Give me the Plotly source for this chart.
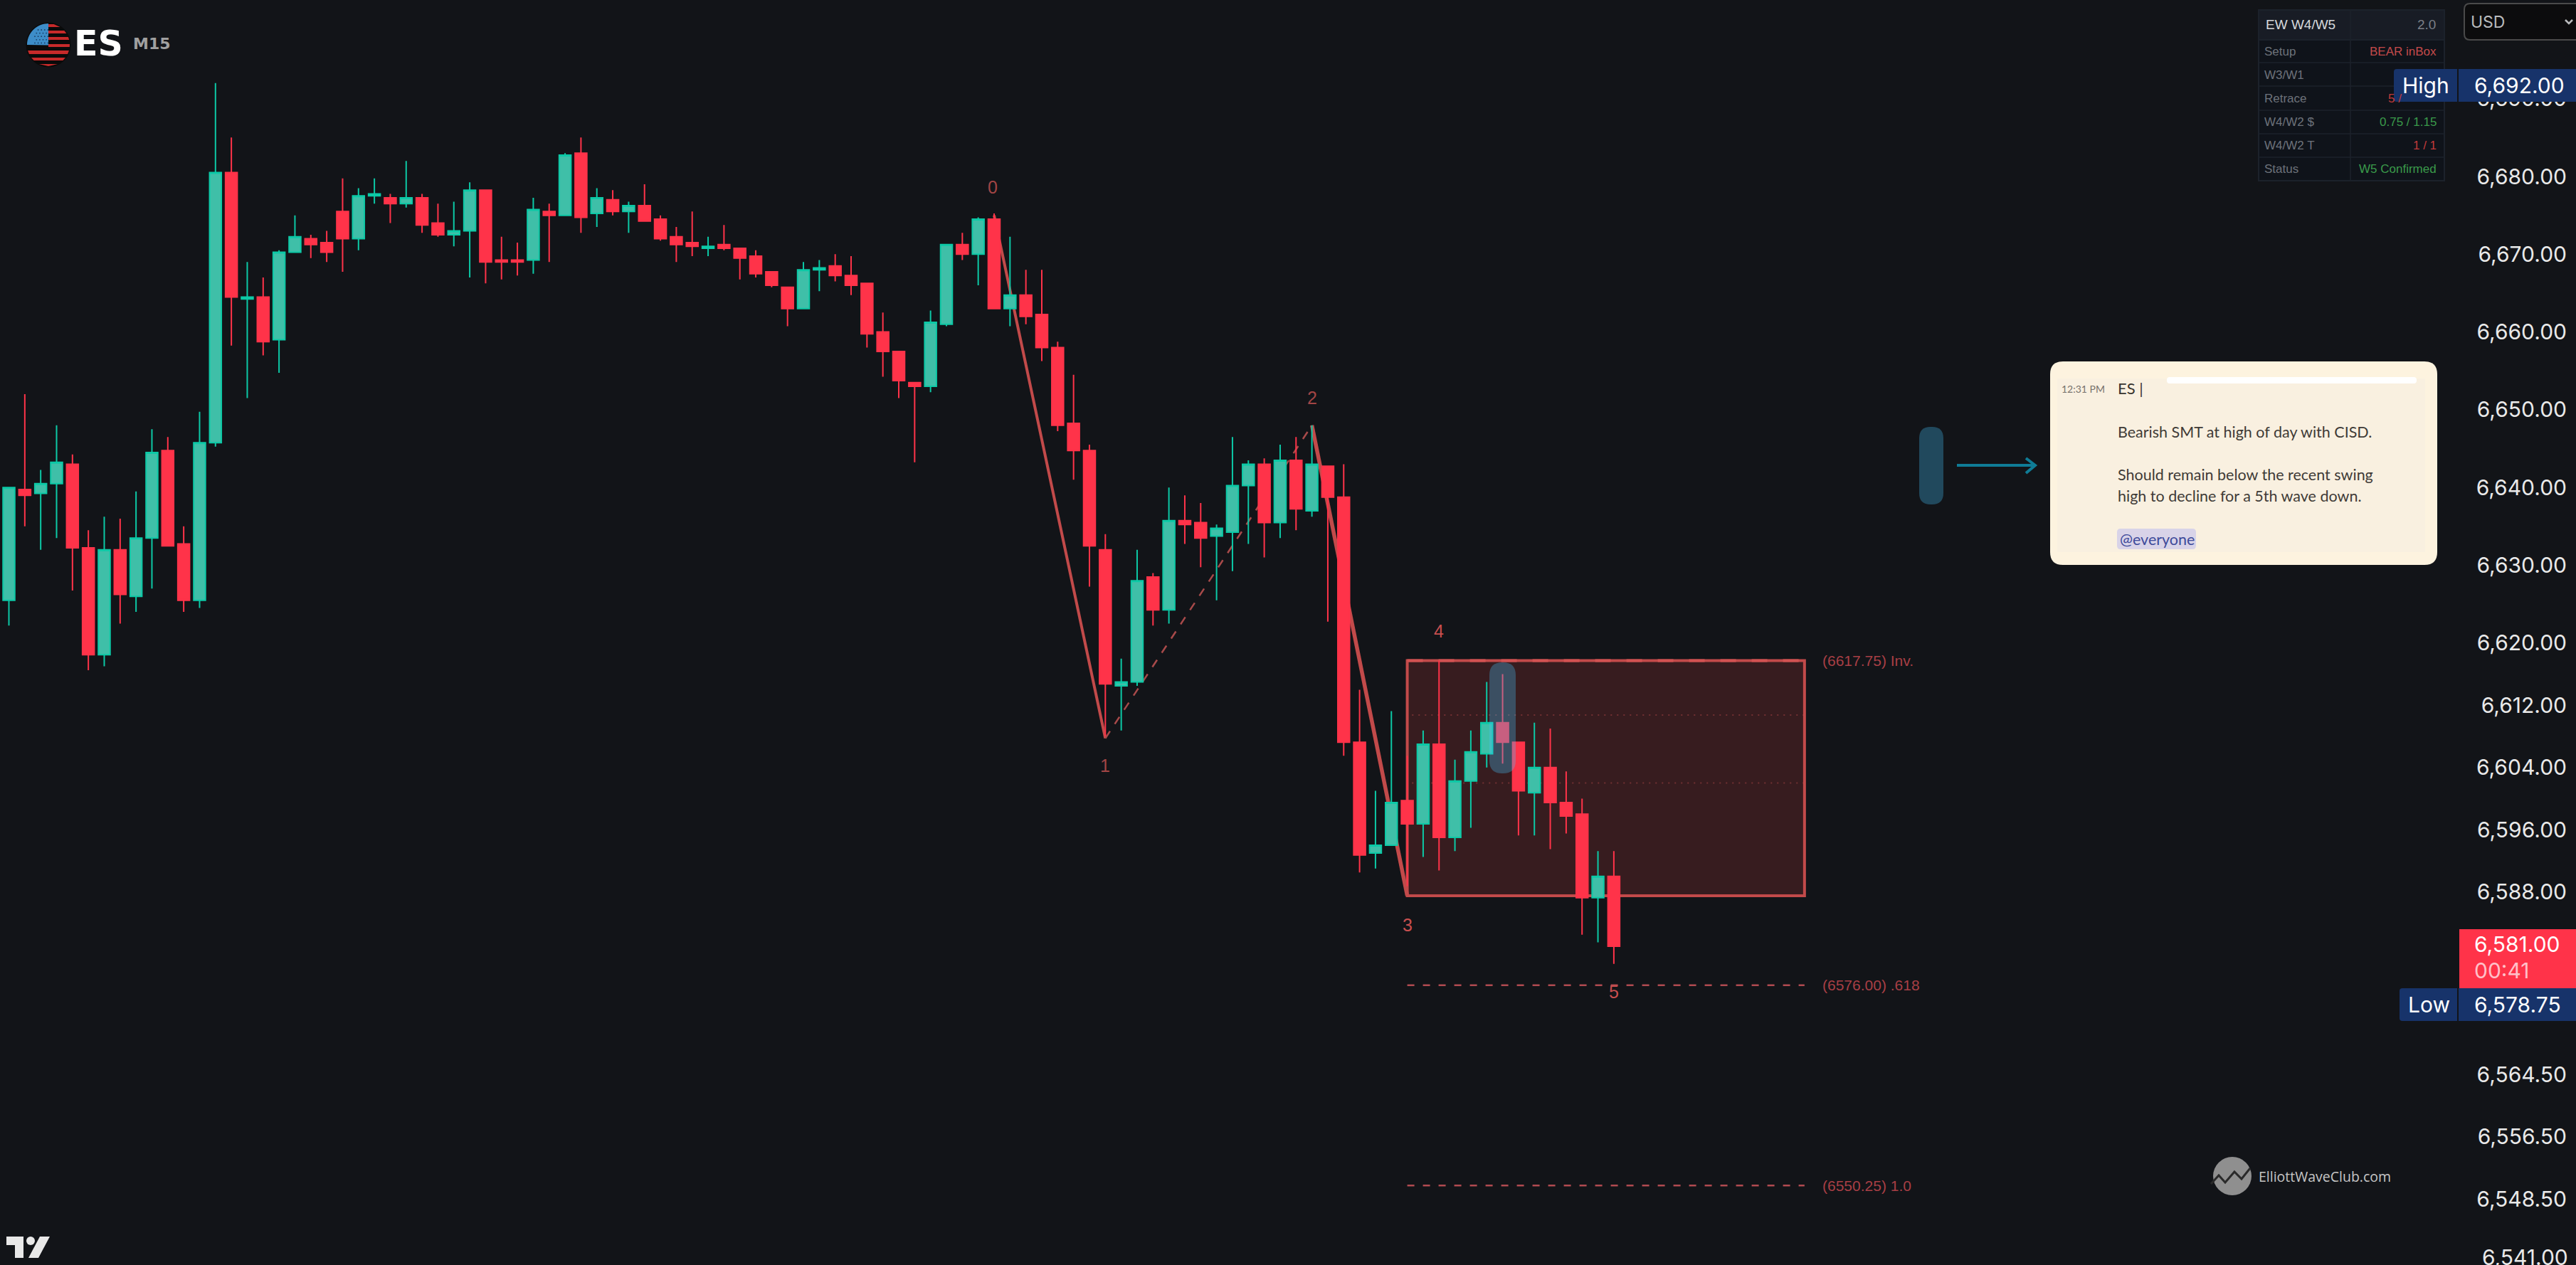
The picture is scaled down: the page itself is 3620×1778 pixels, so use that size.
import math
import plotly.graph_objects as go

W, H = 3620, 1778

# ---------- candles (ES, 15 minute) ----------
opens = [6625.5,6639.75,6639.25,6640.5,6643,6632.25,6618.5,6632,6626,6633.5,6644.75,6632.75,6625.5,6645.75,6680.5,6664.25,6664.5,6659,6670.25,6672,6671.5,6675.5,6672,6677.5,6677.25,6676.5,6677.25,6674,6672.5,6673,6678.25,
         6669.25,6669.25,6669.25,6675.5,6675,6683,6675.25,6677,6675.5,6676.25,6674.5,6672.25,6671.5,6670.75,6671.25,6670.75,6669.75,6667.75,6665.75,6663,6668,6668.5,6667.25,6666.25,6660,6657.5,6653.5,6653,6661,6671.25,6670,6674.5,
         6663,6664.75,6662.25,6658,6648.25,6644.75,6632,6614.5,6615,6628.5,6624.25,6635.75,6635.5,6633.75,6634.25,6640.25,6643,6635.5,6643.5,6637,6642.75,6638.75,6607.25,6593,6594,6599.75,6596.75,6607,6595,6602.25,6605.75,6609.75,6607.25,6600.75,6604,6599.5,6598,6587.25,6590]
highs = [6640,6652,6642.25,6648,6644.25,6634.5,6636.25,6636,6639.5,6647.5,6646.5,6635,6649.75,6692,6685,6669,6667,6670.5,6675,6672.5,6673,6679.75,6678.5,6679.75,6677.75,6682,6677.75,6676.5,6676.75,6679.25,6678.25,
         6672.25,6671.5,6677.25,6676.5,6683,6685,6678.5,6678.25,6676.75,6679,6675,6673.5,6675.5,6672.25,6673.75,6670.75,6670.5,6667.75,6665.75,6669,6669.25,6670,6669.75,6666.25,6662.5,6657.5,6653.5,6662.75,6671.25,6672.75,6674.75,6675.25,
         6672.25,6668,6668,6658.75,6654.5,6645.5,6634,6618,6632,6629,6640,6639,6638,6635.25,6646.5,6643.5,6643.75,6645.5,6646.5,6648,6642.75,6643,6614,6601,6611.25,6605.5,6608.75,6617.75,6605,6608.75,6615,6616,6607.25,6609.75,6609,6603.5,6600,6593.25,6593.25]
lows = [6622.25,6635,6632,6633.5,6626.75,6616.5,6617,6622.5,6624,6627,6632.5,6624,6624.5,6645.25,6658.25,6651.5,6657,6654.75,6670.25,6669.5,6669,6667.75,6670.5,6676.5,6674,6676,6672.75,6672.25,6671,6667,6666.25,
        6666.75,6667.25,6667.5,6669,6675,6672.75,6673.5,6675,6672.75,6674.25,6671.75,6669,6669.75,6669.75,6670.5,6666.75,6667,6665.75,6660.75,6663,6665.25,6666.5,6664.75,6658,6654.25,6651.5,6643.25,6652.25,6660.75,6669.25,6666,6663,
        6660.75,6661,6656.25,6647.25,6641,6627.25,6608,6608.75,6614.5,6622.25,6622.5,6632.75,6629.75,6625.5,6629.25,6632.75,6631,6633.5,6634.5,6636.25,6622.75,6605.5,6590.5,6591,6594,6588.75,6592.5,6590.75,6593.25,6596.25,6604,6604.5,6595.25,6595.25,6593.5,6595.5,6582.5,6581.5,6578.75]
closes = [6640,6639,6640.5,6643.25,6632.25,6618.5,6632,6626.25,6633.5,6644.5,6632.5,6625.5,6645.75,6680.5,6664.5,6664.5,6658.75,6670.25,6672.25,6671.25,6670.25,6672,6677.5,6677.75,6676.5,6677.25,6673.75,6672.5,6673,6678.25,6669,
          6669,6669,6675.75,6675,6682.75,6674.75,6677.25,6675.5,6676.25,6674.25,6672,6671.25,6671,6671,6670.75,6669.5,6667.5,6666,6663,6668,6668.25,6667.25,6666,6659.75,6657.5,6653.75,6653,6661.25,6671.25,6670,6674.5,6663,
          6664.75,6662,6658,6648,6644.75,6632.5,6614.75,6615,6628,6624.25,6635.75,6635.25,6633.5,6634.75,6640.25,6643,6635.5,6643.5,6637.25,6643,6638.75,6607.25,6592.75,6594,6599.5,6596.75,6607,6595,6602.25,6606,6609.75,6607.25,6601,6604,6599.5,6597.75,6587.25,6590,6581]

# ---------- price axis ----------
tick_values = [6690, 6680, 6670, 6660, 6650, 6640, 6630, 6620, 6612, 6604, 6596, 6588, 6564.5, 6556.5, 6548.5]
tick_labels = ["6,690.00", "6,680.00", "6,670.00", "6,660.00", "6,650.00", "6,640.00", "6,630.00", "6,620.00",
               "6,612.00", "6,604.00", "6,596.00", "6,588.00", "6,564.50", "6,556.50", "6,548.50"]
edge_tick_value, edge_tick_label = 6541, "6,541.00"

# ---------- Elliott wave count ----------
wave_bar = [62, 69, 82, 88]
wave_price = [6675.0, 6607.75, 6648.0, 6587.5]
wave_names = ["0", "1", "2", "3", "4", "5"]
wave_label_bar = [61.9, 69, 82, 88, 90, 101]
wave_label_price = [6678.6, 6604.25, 6651.55, 6583.75, 6621.5, 6575.15]
wave_label_color = ["#a24545", "#a24545", "#a24545", "#c94f4f", "#c94f4f", "#c94f4f"]

box_bars = [88, 113]
box_top, box_bottom = 6617.75, 6587.5
box_inner = [6610.75, 6602.0]
target_levels = [6576.0, 6550.25]
level_prices = [6617.75, 6576.0, 6550.25]
level_names = ["(6617.75) Inv.", "(6576.00) .618", "(6550.25) 1.0"]

high_value, low_value, last_value, countdown = "6,692.00", "6,578.75", "6,581.00", "00:41"

table_rows = ["Setup", "W3/W1", "Retrace", "W4/W2 $", "W4/W2 T", "Status"]
table_values = ["BEAR inBox", "", "", "0.75 / 1.15", "1 / 1", "W5 Confirmed"]
table_colors = ["#c44a4a", "#3a9a4a", "#c23a3a", "#3a9a4a", "#c23a3a", "#3a9a4a"]

note_lines = ["Bearish SMT at high of day with CISD.", "Should remain below the recent swing", "high to decline for a 5th wave down."]

# ---------- helpers working in screen pixels for chrome that is not data ----------
px = lambda x: x / W
py = lambda y: 1 - y / H
shapes, notes = [], []


def rrect(x0, y0, x1, y1, r, fill, line=None, lw=0, layer="above"):
    p = (f"M{px(x0+r)},{py(y0)} L{px(x1-r)},{py(y0)} Q{px(x1)},{py(y0)} {px(x1)},{py(y0+r)} "
         f"L{px(x1)},{py(y1-r)} Q{px(x1)},{py(y1)} {px(x1-r)},{py(y1)} L{px(x0+r)},{py(y1)} "
         f"Q{px(x0)},{py(y1)} {px(x0)},{py(y1-r)} L{px(x0)},{py(y0+r)} Q{px(x0)},{py(y0)} {px(x0+r)},{py(y0)} Z")
    shapes.append(dict(type="path", xref="paper", yref="paper", path=p, fillcolor=fill,
                       line=dict(color=line or fill, width=lw), layer=layer))


def rect(x0, y0, x1, y1, fill, line=None, lw=0):
    shapes.append(dict(type="rect", xref="paper", yref="paper", x0=px(x0), x1=px(x1), y0=py(y0), y1=py(y1),
                       fillcolor=fill, line=dict(color=line or fill, width=lw), layer="above"))


def poly(points, color, lw, fill=None):
    p = "M" + " L".join(f"{px(x)},{py(y)}" for x, y in points) + (" Z" if fill else "")
    shapes.append(dict(type="path", xref="paper", yref="paper", path=p, fillcolor=fill or "rgba(0,0,0,0)",
                       line=dict(color=color, width=lw), layer="above"))


def circle(cx, cy, r, fill, line=None, lw=0):
    shapes.append(dict(type="circle", xref="paper", yref="paper", x0=px(cx-r), x1=px(cx+r), y0=py(cy+r), y1=py(cy-r),
                       fillcolor=fill, line=dict(color=line or fill, width=lw), layer="above"))


def text(x, y, s, size, color, anchor="left", family="Liberation Sans", bold=False):
    notes.append(dict(xref="paper", yref="paper", x=px(x), y=py(y), text=f"<b>{s}</b>" if bold else s, showarrow=False,
                      xanchor=anchor, yanchor="middle", borderpad=0, font=dict(size=size, color=color, family=family)))


FONT = "Inter"
RED_LINE = "#c24a4a"
BG = "#121418"

# ---------- shapes tied to the price/bar scales (below the candles) ----------
shapes.append(dict(type="rect", xref="x", yref="y", x0=box_bars[0], x1=box_bars[1], y0=box_bottom, y1=box_top,
                   fillcolor="#371c1f", line=dict(color=RED_LINE, width=4), layer="below"))
shapes.append(dict(type="line", xref="x", yref="y", x0=box_bars[0], x1=box_bars[1], y0=box_top, y1=box_top,
                   line=dict(color="#d25252", width=4, dash="22px,22px"), layer="below"))
for v in box_inner:
    shapes.append(dict(type="line", xref="x", yref="y", x0=box_bars[0] + 0.3, x1=box_bars[1], y0=v, y1=v,
                       line=dict(color="rgba(200,80,80,0.4)", width=2, dash="2px,7px"), layer="below"))
for v in target_levels:
    shapes.append(dict(type="line", xref="x", yref="y", x0=box_bars[0], x1=box_bars[1], y0=v, y1=v,
                       line=dict(color="#b04a50", width=2.5, dash="10px,12px"), layer="below"))
for i, (w, d) in enumerate([(4, "solid"), (2.5, "12px,12px"), (5.5, "solid")]):
    shapes.append(dict(type="line", xref="x", yref="y", x0=wave_bar[i], x1=wave_bar[i + 1],
                       y0=wave_price[i], y1=wave_price[i + 1],
                       line=dict(color=RED_LINE if d == "solid" else "#a84a4a", width=w, dash=d), layer="below"))

# wave and level labels
for n, b, p, c in zip(wave_names, wave_label_bar, wave_label_price, wave_label_color):
    notes.append(dict(xref="x", yref="y", x=b, y=p, text=n, showarrow=False, borderpad=0,
                      font=dict(size=25, color=c, family="Liberation Sans")))
for n, p in zip(level_names, level_prices):
    notes.append(dict(xref="x", yref="y", x=114.1, y=p, text=n, showarrow=False, xanchor="left", borderpad=0,
                      font=dict(size=21, color="#a83f45", family="Liberation Sans")))
notes.append(dict(xref="paper", yref="y", x=px(3610), y=edge_tick_value, text=edge_tick_label, showarrow=False,
                  xanchor="right", borderpad=0, font=dict(size=30, color="#e9e9e9", family=FONT)))

# highlight pill over the candle and its twin on the right
PILL = "rgba(68,198,255,0.30)"
rrect(2093, 931, 2130, 1087, 18, PILL)
rrect(2697, 600, 2731, 709, 16, PILL)
poly([(2750, 654), (2858, 654)], "#0f7c96", 4)
poly([(2847, 644), (2860, 654), (2847, 665)], "#0f7c96", 4)

# ---------- quote card ----------
rrect(2881, 508, 3425, 794, 18, "#fdf3df")
rect(2891, 532, 3408, 776, "#f9f0e0")
rrect(3045, 530, 3396, 539, 4, "#ffffff")
text(2896, 546, "12:31 PM", 14, "#77726d", family="Lato")
text(2975, 545, "ES |", 22, "#38342f", family="Lato")
for line, y in zip(note_lines, [607, 667, 697]):
    text(2975, y, line, 21.5, "#3f3b37", family="Lato")
rrect(2975, 743, 3086, 772, 5, "#d8d3e8")
text(2978, 758, "@everyone", 21.5, "#3d4a9a", family="Lato")

# ---------- indicator table ----------
rect(3174, 14, 3435, 254, "#0f131a", "#1c222b", 2)
rect(3174, 14, 3435, 56, "#181c25", "#1c222b", 2)
for y in [88, 121, 155, 188, 221]:
    poly([(3174, y), (3435, y)], "#1c222b", 1.5)
poly([(3303, 14), (3303, 254)], "#1c222b", 1.5)
text(3183, 35, "EW W4/W5", 19, "#d5d8dc")
text(3424, 35, "2.0", 19, "#7b7f87", "right")
for name, val, col, y in zip(table_rows, table_values, table_colors, [72, 105, 138, 171, 204, 237]):
    text(3181, y, name, 17, "#6d727a")
    if val:
        text(3425, y, val, 17, col, "right")
text(3355, 138, "5 /", 17, "#c23a3a")

# ---------- price-scale tags ----------
NAVY = "#17336a"
rrect(3364, 97, 3460, 143, 4, NAVY)
rect(3455, 97, 3620, 143, NAVY)
poly([(3454, 97), (3454, 143)], BG, 2)
text(3409, 120, "High", 30, "#ffffff", "center", FONT)
text(3476, 120, high_value, 30, "#ffffff", family=FONT)
rect(3456, 1306, 3620, 1389, "#ff3349")
text(3476, 1327, last_value, 30, "#ffffff", family=FONT)
text(3476, 1364, countdown, 30, "#ffc0c8", family=FONT)
rrect(3372, 1389, 3460, 1435, 4, NAVY)
rect(3455, 1389, 3620, 1435, NAVY)
poly([(3454, 1389), (3454, 1435)], BG, 2)
text(3413, 1412, "Low", 30, "#ffffff", "center", FONT)
text(3476, 1412, low_value, 30, "#ffffff", family=FONT)

# ---------- currency selector ----------
rrect(3463, 5, 3640, 56, 8, "#0c0c0d", "#4a4a4a", 2)
text(3471, 31, "USD", 23, "#b9bbbd", family=FONT)
poly([(3605, 28), (3610, 33), (3615, 28)], "#b9bbbd", 2.5)

# ---------- flag + symbol ----------
cx, cy, r = 68, 63, 30
circle(cx, cy, r + 1, "#0a0a0a", "#0a0a0a", 1)


def chord(y):
    return math.sqrt(max(r * r - (y - cy) ** 2, 0))


ys = [y / 2 + cy for y in range(-60, 1)]
poly([(cx, cy + 0.5)] + [(cx - chord(y), y) for y in reversed(ys)] + [(cx, cy - r)], "#3d8dc8", 0, "#3d8dc8")
for row in range(5):
    for col in range(5):
        sx, sy = 49 + col * 4.6 + (row % 2) * 2.3, 42 + row * 4.6
        if math.hypot(sx - cx, sy - cy) < r - 2:
            circle(sx, sy, 0.9, "#1a3f66")
for y0, y1, full in [(34, 38, False), (43, 47, False), (52, 56, False), (62, 66, False),
                     (71, 76, True), (81, 85, True), (90, 93, True)]:
    xl0, xl1 = (cx - chord(y0), cx - chord(y1)) if full else (cx, cx)
    poly([(xl0, y0), (cx + chord(y0), y0), (cx + chord(y1), y1), (xl1, y1)], "#c72a2a", 0, "#c72a2a")
text(103, 62, "ES", 49, "#ffffff", family="DejaVu Sans", bold=True)
text(186, 62, "M15", 22, "#a0a0a0", family="DejaVu Sans", bold=True)

# ---------- TradingView mark, bottom left ----------
poly([(9, 1738), (33, 1738), (33, 1768), (21, 1768), (21, 1750), (9, 1750)], "#e8e8e8", 0, "#e8e8e8")
circle(43, 1744, 6, "#e8e8e8")
poly([(56, 1738), (70, 1738), (54, 1768), (40, 1768)], "#e8e8e8", 0, "#e8e8e8")

# ---------- ElliottWaveClub mark ----------
circle(3137, 1653, 27, "#8f8f8f")
poly([(3107, 1664), (3118, 1652), (3127, 1662), (3140, 1647), (3150, 1657), (3162, 1642)], "#2a2a2a", 3)
text(3173, 1653, "ElliottWaveClub.com", 19.5, "#c6c6c6", family="Open Sans")

# ---------- figure ----------
fig = go.Figure(go.Candlestick(
    x=list(range(len(opens))), open=opens, high=highs, low=lows, close=closes,
    increasing=dict(line=dict(color="#0cc9a6", width=2), fillcolor="#3fbfa8"),
    decreasing=dict(line=dict(color="#ff3349", width=2), fillcolor="#ff3349"),
    whiskerwidth=0, showlegend=False, hoverinfo="skip",
))
fig.update_layout(
    width=W, height=H, autosize=False,
    margin=dict(l=0, r=0, t=0, b=0, pad=0),
    paper_bgcolor=BG, plot_bgcolor=BG,
    boxgap=0.26, boxgroupgap=0, shapes=shapes, annotations=notes, showlegend=False,
    xaxis=dict(visible=False, range=[-0.56, 161.55], rangeslider=dict(visible=False)),
    yaxis=dict(side="right", range=[6540.02, 6702.69], tickmode="array", tickvals=tick_values, ticktext=tick_labels,
               ticklabelposition="inside", ticks="", showgrid=False, zeroline=False, showline=False,
               ticklabelstandoff=10, tickfont=dict(family=FONT, size=30, color="#e9e9e9")),
)
fig.write_html("out.html", config=dict(displayModeBar=False),
               post_script="document.documentElement.style.overflow='hidden';document.documentElement.style.background='#121418';document.body.style.margin='0';document.body.style.background='#121418';")
